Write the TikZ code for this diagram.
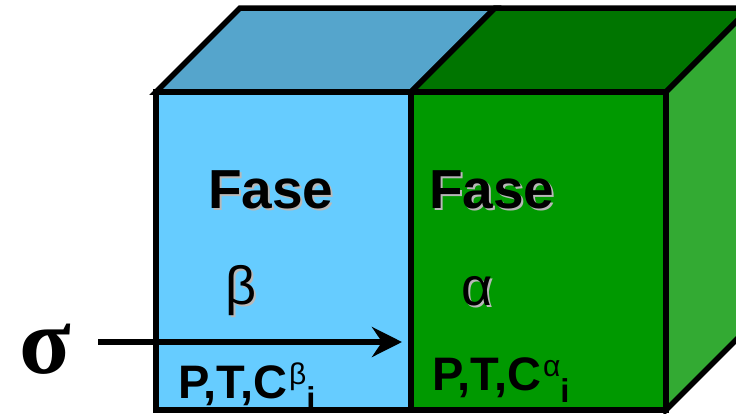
\documentclass[tikz,border=0pt]{standalone}
\usepackage{fontspec}
\setmainfont{Liberation Sans}
\newfontfamily\greekserif{Liberation Serif}
\usetikzlibrary{arrows.meta}
\definecolor{betafront}{HTML}{66CCFF}
\definecolor{betatop}{HTML}{55A5CC}
\definecolor{alphafront}{HTML}{009900}
\definecolor{alphatop}{HTML}{007500}
\definecolor{alphaside}{HTML}{33AA33}
\newcommand{\shadowed}[1]{\makebox[0pt][l]{\kern2pt\raisebox{-2pt}{\color{black!28}#1}}#1}
\newcommand{\ptc}[1]{P,T,C\kern2pt\raisebox{14pt}{\fontsize{30}{30}\selectfont\mdseries #1}\raisebox{-12pt}{\fontsize{33}{33}\selectfont i}}
\begin{document}
\begin{tikzpicture}[x=1pt,y=-1pt,
    face/.style={draw=black,line width=5.5pt,line join=miter},
    fase/.style={font=\fontsize{55}{55}\selectfont\bfseries,inner sep=0pt,anchor=base west},
    greek/.style={font=\fontsize{54}{54}\selectfont,inner sep=0pt,anchor=base},
    state/.style={font=\fontsize{47}{47}\selectfont\bfseries,inner sep=0pt,anchor=base west},
    flow/.style={-{Stealth[length=30pt,width=30pt,inset=10pt]},line width=5.5pt,shorten <=27pt}]
    \clip (0,0) rectangle (736,413);
    \fill[white] (0,0) rectangle (736,413);
    \draw[face,fill=betatop] (156,92)--(240,8)--(495,8)--(411,92)--cycle; %上面 beta
    \draw[face,fill=betafront] (156,92) rectangle (411,410); %前面 beta
    \draw[face,fill=alphatop] (411,92)--(495,8)--(750,8)--(666,92)--cycle; %上面 alpha
    \draw[face,fill=alphafront] (411,92) rectangle (666,410); %前面 alpha
    \draw[face,fill=alphaside] (666,92)--(750,8)--(750,326)--(666,410)--cycle; %側面 alpha
    \node[fase] (fasebeta) at (208,208) {\shadowed{Fase}};
    \node[fase] (fasealpha) at (429,208) {\shadowed{Fase}};
    \node[greek] (beta) at (241,304) {\shadowed{β}};
    \node[greek] (alpha) at (477,305) {\shadowed{α}};
    \node[state] (statebeta) at (178,398) {\ptc{β}};
    \node[state] (statealpha) at (432,390) {\ptc{α}};
    \node[font=\fontsize{95}{95}\greekserif\bfseries,inner sep=0pt,anchor=base] (sigma) at (45,373) {σ};
    \coordinate (tip) at (402,342);
    \draw[flow] (sigma.east |- tip) -- (tip);
\end{tikzpicture}
\end{document}
